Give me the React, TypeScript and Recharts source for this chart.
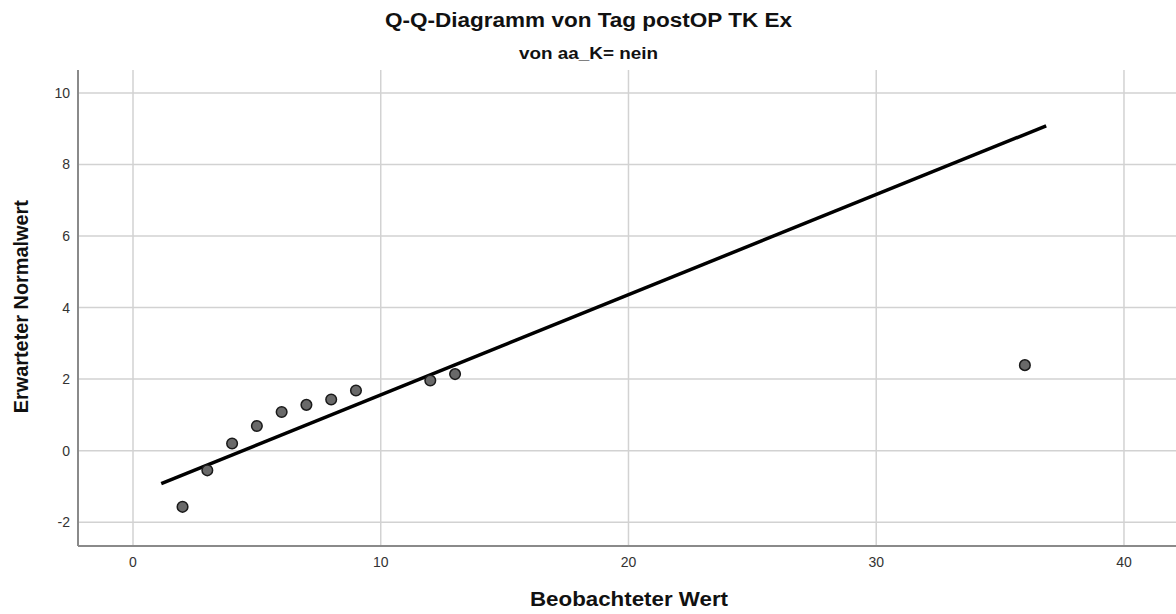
import React from "react";
import { ScatterChart, Scatter, XAxis, YAxis, ReferenceLine } from "recharts";

const observedValues = [2, 3, 4, 5, 6, 7, 8, 9, 12, 13, 36];
const expectedNormal = [-1.57, -0.55, 0.2, 0.69, 1.08, 1.28, 1.43, 1.68, 1.96, 2.14, 2.39];
const refLineX = [1.14, 36.86];
const refLineY = [-0.92, 9.08];
const xTicks = [0, 10, 20, 30, 40];
const yTicks = [-2, 0, 2, 4, 6, 8, 10];

const titleText = "Q-Q-Diagramm von Tag postOP TK Ex";
const subtitleText = "von aa_K= nein";
const xLabelText = "Beobachteter Wert";
const yLabelText = "Erwarteter Normalwert";

const points = observedValues.map((x, i) => ({ x, y: expectedNormal[i] }));
const linePts = refLineX.map((x, i) => ({ x, y: refLineY[i] }));

const FONT = "'Liberation Sans', Arial, Helvetica, sans-serif";
const GRID = "#d2d2d2";

const Dot = (props: any) => {
  const { cx, cy } = props;
  if (cx == null || cy == null) return <g />;
  return <circle cx={cx} cy={cy} r={5.3} fill="#696969" stroke="#1a1a1a" strokeWidth={1.5} />;
};

export default function App() {
  return (
    <div style={{ position: "absolute", left: 0, top: 0, width: 1176, height: 614, background: "#fff", fontFamily: FONT }}>
      <ScatterChart
        width={1176}
        height={614}
        margin={{ top: 70, right: 0, bottom: 0, left: 0 }}
        style={{ fontFamily: FONT }}
      >
        {yTicks.map((t) => (
          <ReferenceLine key={"gy" + t} y={t} stroke={GRID} strokeWidth={1.5} />
        ))}
        {xTicks.map((t) => (
          <ReferenceLine key={"gx" + t} x={t} stroke={GRID} strokeWidth={1.5} />
        ))}
        <XAxis
          type="number"
          dataKey="x"
          domain={[-2.22, 42.1]}
          ticks={xTicks}
          allowDataOverflow
          height={68}
          tickSize={0}
          tickMargin={11}
          axisLine={{ stroke: "#8a8a8a", strokeWidth: 2 }}
          tick={{ fontSize: 14, fill: "#333", fontFamily: FONT }}
        />
        <YAxis
          type="number"
          dataKey="y"
          domain={[-2.665, 10.64]}
          ticks={yTicks}
          allowDataOverflow
          width={78}
          tickSize={0}
          tickMargin={8}
          axisLine={{ stroke: "#8a8a8a", strokeWidth: 2 }}
          tick={{ fontSize: 14, fill: "#333", fontFamily: FONT }}
        />
        <Scatter
          data={linePts}
          line={{ stroke: "#000", strokeWidth: 3.5 }}
          shape={() => <g />}
          isAnimationActive={false}
        />
        <Scatter data={points} shape={Dot} isAnimationActive={false} />
      </ScatterChart>
      <svg
        width={1176}
        height={614}
        style={{ position: "absolute", left: 0, top: 0, pointerEvents: "none" }}
      >
        <text x={588.5} y={27} textAnchor="middle" fontSize={20} fontWeight="bold" fill="#111" fontFamily={FONT} textLength={407} lengthAdjust="spacingAndGlyphs">
          {titleText}
        </text>
        <text x={588.5} y={59} textAnchor="middle" fontSize={17} fontWeight="bold" fill="#111" fontFamily={FONT} textLength={139} lengthAdjust="spacingAndGlyphs">
          {subtitleText}
        </text>
        <text x={629} y={605.5} textAnchor="middle" fontSize={20} fontWeight="bold" fill="#111" fontFamily={FONT} textLength={198} lengthAdjust="spacingAndGlyphs">
          {xLabelText}
        </text>
        <text
          x={0}
          y={0}
          transform="translate(28.3, 306.7) rotate(-90)"
          textAnchor="middle"
          fontSize={20}
          fontWeight="bold"
          fill="#111"
          fontFamily={FONT}
          textLength={213}
          lengthAdjust="spacingAndGlyphs"
        >
          {yLabelText}
        </text>
      </svg>
    </div>
  );
}
